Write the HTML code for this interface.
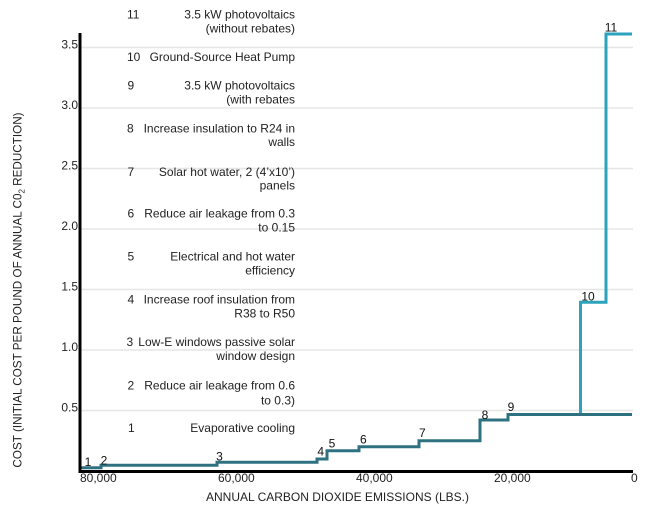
<!DOCTYPE html>
<html>
<head>
<meta charset="utf-8">
<style>
  html, body { margin: 0; padding: 0; background: #ffffff; }
  body { width: 645px; height: 512px; overflow: hidden; }
  svg { display: block; }
  text { font-family: "Liberation Sans", Arial, sans-serif; }
</style>
</head>
<body>
<svg width="645" height="512" viewBox="0 0 645 512" xmlns="http://www.w3.org/2000/svg">
  <!-- gridlines -->
  <g stroke="#e6e6e6" stroke-width="1.5">
    <line x1="81" y1="47.5" x2="633" y2="47.5"/>
    <line x1="81" y1="108" x2="633" y2="108"/>
    <line x1="81" y1="168.5" x2="633" y2="168.5"/>
    <line x1="81" y1="229" x2="633" y2="229"/>
    <line x1="81" y1="289.5" x2="633" y2="289.5"/>
    <line x1="81" y1="350" x2="633" y2="350"/>
    <line x1="81" y1="410.5" x2="633" y2="410.5"/>
  </g>

  <!-- y tick labels -->
  <g font-size="12" fill="#222" text-anchor="end">
    <text x="78" y="48.5">3.5</text>
    <text x="78" y="109">3.0</text>
    <text x="78" y="169.5">2.5</text>
    <text x="78" y="230">2.0</text>
    <text x="78" y="290.5">1.5</text>
    <text x="78" y="351">1.0</text>
    <text x="78" y="411.5">0.5</text>
  </g>

  <!-- legend -->
  <g font-size="12" fill="#222">
    <g text-anchor="start">
      <text x="127" y="18.3">11</text>
      <text x="127" y="61">10</text>
      <text x="127.5" y="89.3">9</text>
      <text x="127" y="132.3">8</text>
      <text x="127.5" y="176">7</text>
      <text x="127.5" y="217.6">6</text>
      <text x="127.5" y="260.3">5</text>
      <text x="127.5" y="303.3">4</text>
      <text x="126.5" y="346">3</text>
      <text x="127.5" y="389.3">2</text>
      <text x="128" y="432">1</text>
    </g>
    <g text-anchor="end">
      <text x="295" y="18.3">3.5 kW photovoltaics</text>
      <text x="295" y="32.3">(without rebates)</text>
      <text x="295" y="61">Ground-Source Heat Pump</text>
      <text x="295" y="89.3">3.5 kW photovoltaics</text>
      <text x="295" y="103.3">(with rebates</text>
      <text x="295" y="132.3">Increase insulation to R24 in</text>
      <text x="295" y="146">walls</text>
      <text x="295" y="176">Solar hot water, 2 (4’x10’)</text>
      <text x="295" y="189.3">panels</text>
      <text x="295" y="217.6">Reduce air leakage from 0.3</text>
      <text x="295" y="231.6">to 0.15</text>
      <text x="295" y="260.3">Electrical and hot water</text>
      <text x="295" y="274.3">efficiency</text>
      <text x="295" y="303.3">Increase roof insulation from</text>
      <text x="295" y="317.6">R38 to R50</text>
      <text x="295" y="346">Low-E windows passive solar</text>
      <text x="295" y="360">window design</text>
      <text x="295" y="389.3">Reduce air leakage from 0.6</text>
      <text x="295" y="404.3">to 0.3)</text>
      <text x="295" y="432">Evaporative cooling</text>
    </g>
  </g>

  <!-- cyan series (10, 11) -->
  <path d="M580.5,414.5 V302.3 H606 V34 H632" fill="none" stroke="#2ba3bc" stroke-width="3"/>
  <!-- dark teal series (1-9) -->
  <path d="M80,467.8 H101 V465.3 H217 V462.3 H317 V459 H327 V450.8 H359 V446.8 H419 V440.8 H480 V420 H508 V414.5 H632" fill="none" stroke="#2e7282" stroke-width="3"/>

  <!-- series labels -->
  <g font-size="12" fill="#111" text-anchor="middle">
    <text x="88" y="466">1</text>
    <text x="104" y="464.3">2</text>
    <text x="219.5" y="460.3">3</text>
    <text x="320.7" y="455.3">4</text>
    <text x="332" y="447.3">5</text>
    <text x="363.3" y="443.3">6</text>
    <text x="422.3" y="437">7</text>
    <text x="485" y="419">8</text>
    <text x="511" y="411">9</text>
    <text x="588" y="300.3">10</text>
    <text x="611" y="31.3">11</text>
  </g>

  <!-- axes -->
  <line x1="80" y1="33" x2="80" y2="473" stroke="#000" stroke-width="3"/>
  <line x1="78.5" y1="471.5" x2="633" y2="471.5" stroke="#000" stroke-width="3"/>

  <!-- x tick labels -->
  <g font-size="12" fill="#222" text-anchor="start">
    <text x="80" y="482">80,000</text>
    <text x="218" y="482">60,000</text>
    <text x="356" y="482">40,000</text>
    <text x="494" y="482">20,000</text>
    <text x="631" y="482">0</text>
  </g>

  <!-- axis titles -->
  <text x="337.5" y="501" font-size="12" fill="#222" text-anchor="middle">ANNUAL CARBON DIOXIDE EMISSIONS (LBS.)</text>
  <text transform="translate(21.5,290) rotate(-90)" x="0" y="0" font-size="11.7" fill="#222" text-anchor="middle">COST (INITIAL COST PER POUND OF ANNUAL C0<tspan font-size="8" dy="3">2</tspan><tspan dy="-3"> REDUCTION)</tspan></text>
</svg>
</body>
</html>
